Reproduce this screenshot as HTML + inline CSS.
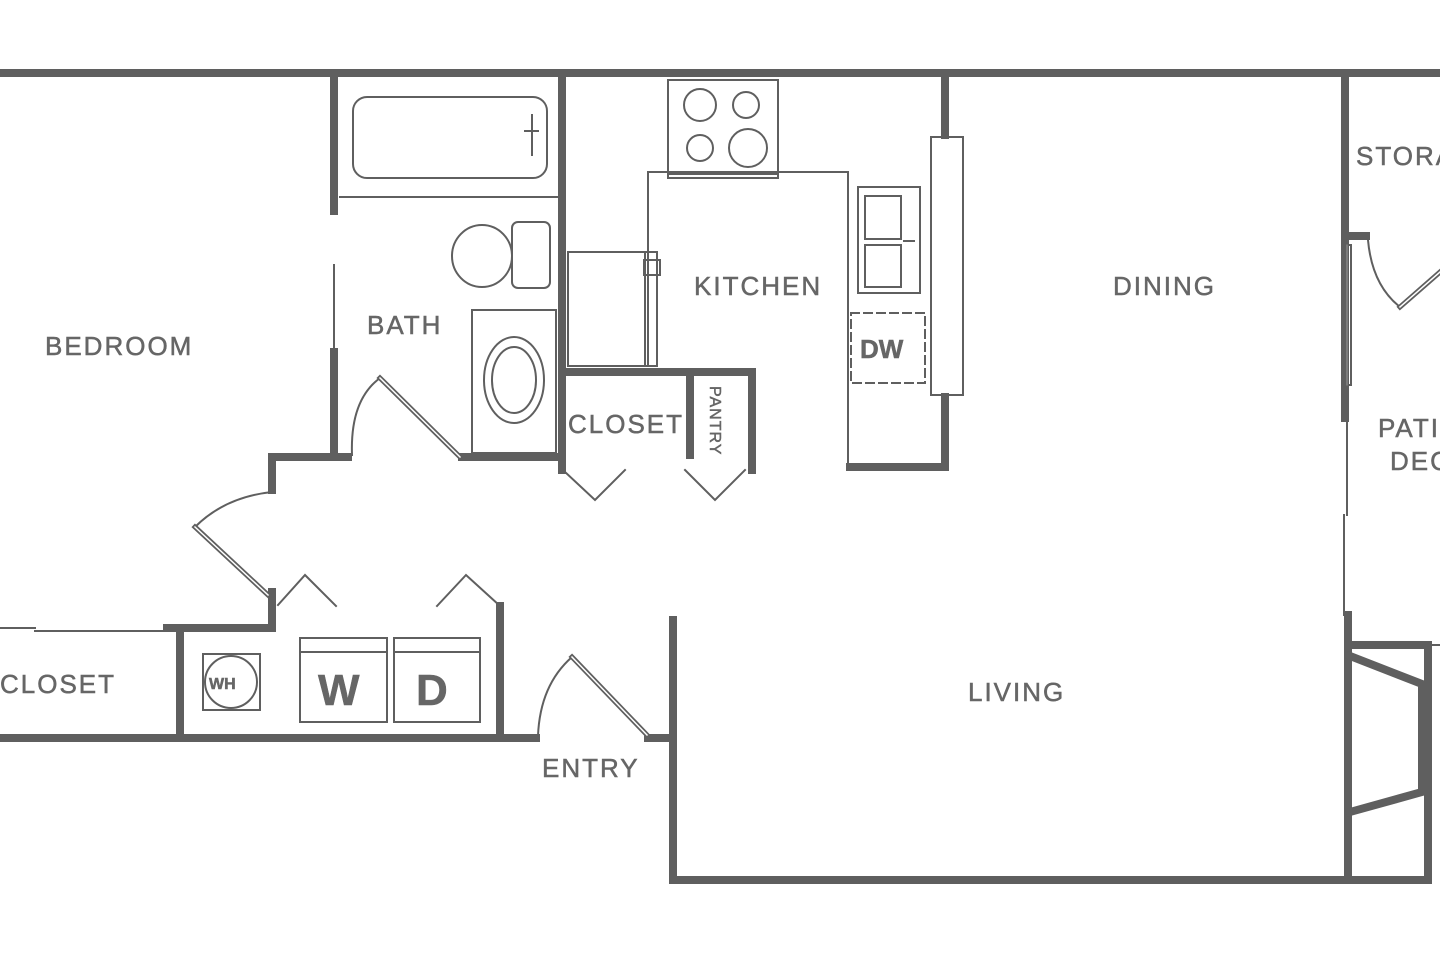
<!DOCTYPE html>
<html><head><meta charset="utf-8"><style>
html,body{margin:0;padding:0;background:#fff}
svg{display:block}
text{font-family:"Liberation Sans",sans-serif;fill:#666;font-size:26px;letter-spacing:2px;stroke:#666;stroke-width:0.5}
</style></head><body>
<svg width="1440" height="960" viewBox="0 0 1440 960" xmlns="http://www.w3.org/2000/svg">
<g stroke="#5f5f5f" fill="none" stroke-linecap="square">
<g stroke-width="8">
<line x1="0" y1="73" x2="1440" y2="73"/>
<line x1="334" y1="73" x2="334" y2="211"/>
<line x1="334" y1="352" x2="334" y2="455"/>
<polyline points="348,457 272,457 272,490"/>
<line x1="462" y1="457" x2="558" y2="457"/>
<line x1="562" y1="73" x2="562" y2="470"/>
<polyline points="562,372 752,372 752,470"/>
<line x1="690" y1="372" x2="690" y2="455"/>
<line x1="945" y1="73" x2="945" y2="135"/>
<polyline points="945,397 945,467 850,467"/>
<line x1="1345" y1="73" x2="1345" y2="385"/>
<line x1="1345" y1="236" x2="1366" y2="236"/>
<line x1="1345" y1="385" x2="1345" y2="418"/>
<polyline points="272,592 272,628 167,628"/>
<line x1="180" y1="628" x2="180" y2="738"/>
<line x1="500" y1="606" x2="500" y2="738"/>
<line x1="0" y1="738" x2="536" y2="738"/>
<line x1="648" y1="738" x2="673" y2="738"/>
<polyline points="673,620 673,880 1428,880 1428,645 1348,645"/>
<line x1="1348" y1="615" x2="1348" y2="880"/>
<polyline points="1350,656 1422,684 1422,792 1350,812"/>
</g>
<g stroke-width="2">
<line x1="334" y1="265" x2="334" y2="350"/>
<rect x="353" y="97" width="194" height="81" rx="14"/>
<line x1="340" y1="197" x2="558" y2="197"/>
<line x1="525" y1="131" x2="538" y2="131"/><line x1="532" y1="115" x2="532" y2="155"/>
<ellipse cx="482" cy="256" rx="30" ry="31"/>
<rect x="512" y="222" width="38" height="66" rx="6"/>
<rect x="472" y="310" width="84" height="143"/>
<ellipse cx="514" cy="380" rx="30" ry="43"/><ellipse cx="514" cy="380" rx="22" ry="33"/>
<path d="M352,455 Q350,400 380,378"/>
<line x1="380" y1="378" x2="460" y2="457" stroke-width="5"/>
<line x1="380" y1="378" x2="460" y2="457" stroke="#fff" stroke-width="1.5"/>
<path d="M272,492 Q225,497 195,527"/>
<line x1="195" y1="527" x2="268" y2="595" stroke-width="5"/>
<line x1="195" y1="527" x2="268" y2="595" stroke="#fff" stroke-width="1.5"/>
<polyline points="565,472 595,500 625,470"/>
<polyline points="685,470 715,500 745,470"/>
<rect x="568" y="252" width="80" height="114"/>
<rect x="645" y="252" width="12" height="114"/>
<rect x="644" y="260" width="16" height="15"/>
<polyline points="648,366 648,172 848,172 848,465"/>
<rect x="668" y="80" width="110" height="98"/>
<line x1="668" y1="174" x2="778" y2="174"/>
<circle cx="700" cy="105" r="16"/><circle cx="746" cy="105" r="13"/>
<circle cx="700" cy="148" r="13"/><circle cx="748" cy="148" r="19"/>
<rect x="931" y="137" width="32" height="258"/>
<rect x="858" y="187" width="62" height="106"/>
<rect x="865" y="196" width="36" height="43"/><rect x="865" y="245" width="36" height="42"/>
<line x1="904" y1="241" x2="914" y2="241"/>
<rect x="851" y="313" width="74" height="70" stroke-dasharray="8,5"/>
<rect x="1343" y="245" width="8" height="140"/>
<line x1="1347" y1="245" x2="1347" y2="385" stroke="#999" stroke-width="1"/>
<line x1="1347" y1="418" x2="1347" y2="515"/>
<line x1="1344" y1="515" x2="1344" y2="615"/>
<path d="M1368,240 Q1372,285 1400,307"/>
<line x1="1400" y1="307" x2="1440" y2="272" stroke-width="5"/>
<line x1="1400" y1="307" x2="1440" y2="272" stroke="#fff" stroke-width="1.5"/>
<line x1="1428" y1="645" x2="1440" y2="645"/>
<line x1="0" y1="628" x2="35" y2="628"/>
<line x1="35" y1="631" x2="165" y2="631"/>
<rect x="203" y="654" width="57" height="56"/>
<circle cx="231" cy="682" r="26"/>
<rect x="300" y="638" width="87" height="84"/><line x1="300" y1="652" x2="387" y2="652"/>
<rect x="394" y="638" width="86" height="84"/><line x1="394" y1="652" x2="480" y2="652"/>
<polyline points="278,605 305,575 336,606"/>
<polyline points="437,606 466,575 500,606"/>
<path d="M538,736 Q540,685 572,657"/>
<line x1="572" y1="657" x2="647" y2="735" stroke-width="5"/>
<line x1="572" y1="657" x2="647" y2="735" stroke="#fff" stroke-width="1.5"/>
</g>
</g>
<text x="45" y="355">BEDROOM</text>
<text x="367" y="334">BATH</text>
<text x="694" y="295">KITCHEN</text>
<text x="1113" y="295">DINING</text>
<text x="1356" y="165">STORAGE</text>
<text x="1378" y="437">PATIO</text>
<text x="1390" y="470">DECK</text>
<text x="568" y="433">CLOSET</text>
<text x="860" y="358" style="font-weight:bold;font-size:26px;letter-spacing:0">DW</text>
<text x="0" y="693">CLOSET</text>
<text x="968" y="701">LIVING</text>
<text x="542" y="777">ENTRY</text>
<text x="209" y="689" style="font-weight:bold;font-size:16px;letter-spacing:0">WH</text>
<text x="318" y="705" style="font-weight:bold;font-size:44px;letter-spacing:0">W</text>
<text x="416" y="705" style="font-weight:bold;font-size:44px;letter-spacing:0">D</text>
<text transform="translate(710,386) rotate(90)" style="font-size:16px;letter-spacing:1px">PANTRY</text>
</svg>
</body></html>
